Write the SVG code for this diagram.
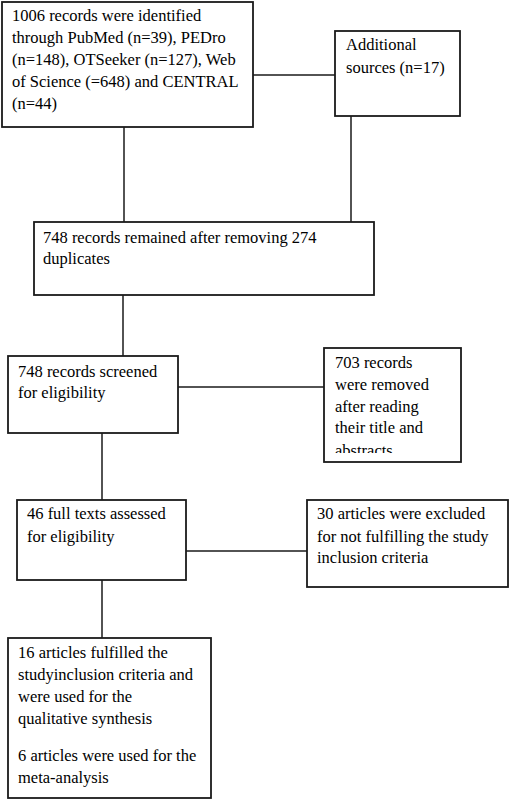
<svg xmlns="http://www.w3.org/2000/svg" width="510" height="801" viewBox="0 0 510 801">
<style>
.box{fill:#fff;stroke:#1a1a1a;stroke-width:1.8}
.ln{stroke:#1a1a1a;stroke-width:1.5;fill:none}
text{font-family:"Liberation Serif","Times New Roman",serif;font-size:16.5px;fill:#000}
</style>
<defs>
<clipPath id="c5"><rect x="324" y="348" width="137" height="105"/></clipPath>
</defs>
<rect width="510" height="801" fill="#fff"/>
<g id="connectors">
<line class="ln" x1="253" y1="75" x2="335" y2="75"/>
<line class="ln" x1="124" y1="127" x2="124" y2="222"/>
<line class="ln" x1="351" y1="116" x2="351" y2="222"/>
<line class="ln" x1="123" y1="295" x2="123" y2="356"/>
<line class="ln" x1="178" y1="387" x2="324" y2="387"/>
<line class="ln" x1="102" y1="433" x2="102" y2="500"/>
<line class="ln" x1="186" y1="551" x2="307" y2="551"/>
<line class="ln" x1="102" y1="580" x2="102" y2="638"/>
</g>
<g id="n1">
<rect class="box" x="2" y="2" width="251" height="125"/>
<text x="12" y="21">1006 records were identified</text>
<text x="12" y="43">through PubMed (n=39), PEDro</text>
<text x="12" y="65">(n=148), OTSeeker (n=127), Web</text>
<text x="12" y="87">of Science (=648) and CENTRAL</text>
<text x="12" y="109">(n=44)</text>
</g>
<g id="n2">
<rect class="box" x="335" y="31" width="125" height="85"/>
<text x="346" y="50">Additional</text>
<text x="346" y="73">sources (n=17)</text>
</g>
<g id="n3">
<rect class="box" x="34" y="222" width="340" height="73"/>
<text x="43" y="243">748 records remained after removing 274</text>
<text x="43" y="264">duplicates</text>
</g>
<g id="n4">
<rect class="box" x="8" y="356" width="170" height="77"/>
<text x="18" y="377">748 records screened</text>
<text x="18" y="398">for eligibility</text>
</g>
<g id="n5">
<rect class="box" x="324" y="348" width="137" height="114"/>
<g clip-path="url(#c5)">
<text x="335" y="368">703 records</text>
<text x="335" y="390">were removed</text>
<text x="335" y="412">after reading</text>
<text x="335" y="433">their title and</text>
<text x="335" y="456">abstracts</text>
</g>
</g>
<g id="n6">
<rect class="box" x="17" y="500" width="169" height="80"/>
<text x="27" y="519">46 full texts assessed</text>
<text x="27" y="542">for eligibility</text>
</g>
<g id="n7">
<rect class="box" x="307" y="500" width="201" height="87"/>
<text x="317" y="519">30 articles were excluded</text>
<text x="317" y="542">for not fulfilling the study</text>
<text x="317" y="563">inclusion criteria</text>
</g>
<g id="n8">
<rect class="box" x="8" y="638" width="203" height="160"/>
<text x="18" y="658">16 articles fulfilled the</text>
<text x="18" y="680">studyinclusion criteria and</text>
<text x="18" y="702">were used for the</text>
<text x="18" y="724">qualitative synthesis</text>
<text x="18" y="761">6 articles were used for the</text>
<text x="18" y="783">meta-analysis</text>
</g>
</svg>
